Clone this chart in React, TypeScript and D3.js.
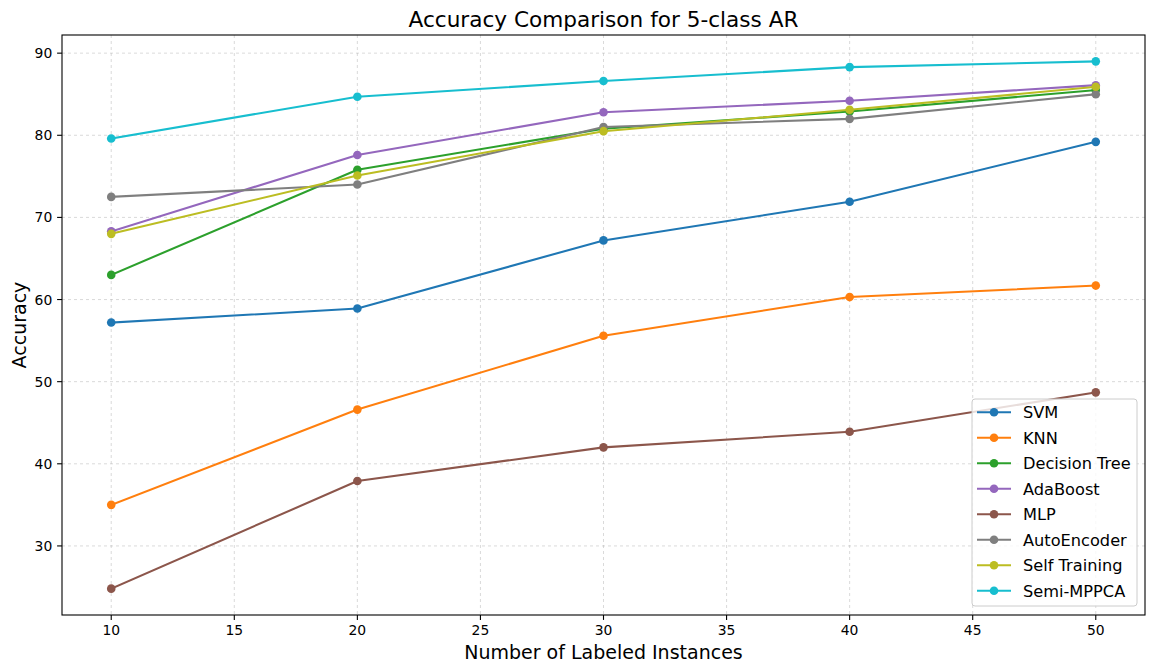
import React from "react";
import * as d3 from "d3";

const xValues = [10, 20, 30, 40, 50];
const xTicks = [10, 15, 20, 25, 30, 35, 40, 45, 50];
const yTicks = [30, 40, 50, 60, 70, 80, 90];

const seriesNames = ["SVM", "KNN", "Decision Tree", "AdaBoost", "MLP", "AutoEncoder", "Self Training", "Semi-MPPCA"];
const svm = [57.2, 58.9, 67.2, 71.9, 79.2];
const knn = [35.0, 46.6, 55.6, 60.3, 61.7];
const decisionTree = [63.0, 75.8, 80.8, 82.9, 85.5];
const adaBoost = [68.3, 77.6, 82.8, 84.2, 86.1];
const mlp = [24.8, 37.9, 42.0, 43.9, 48.7];
const autoEncoder = [72.5, 74.0, 81.0, 82.0, 85.0];
const selfTraining = [68.0, 75.1, 80.5, 83.1, 85.9];
const semiMPPCA = [79.6, 84.7, 86.6, 88.3, 89.0];
const seriesValues = [svm, knn, decisionTree, adaBoost, mlp, autoEncoder, selfTraining, semiMPPCA];
const colors = ["#1f77b4", "#ff7f0e", "#2ca02c", "#9467bd", "#8c564b", "#7f7f7f", "#bcbd22", "#17becf"];

const W = 1149;
const H = 666;
const L = 62, R = 1145, T = 35, B = 615;
const FONT = "DejaVu Sans, sans-serif";

export default function App() {
  const allY = seriesValues.flat();
  const yMin = d3.min(allY)!, yMax = d3.max(allY)!;
  const yPad = (yMax - yMin) * 0.05;
  const xMin = d3.min(xValues)!, xMax = d3.max(xValues)!;
  const xPad = (xMax - xMin) * 0.05;
  const x = d3.scaleLinear().domain([xMin - xPad, xMax + xPad]).range([L, R]);
  const y = d3.scaleLinear().domain([yMin - yPad, yMax + yPad]).range([B, T]);
  const line = d3.line<number>().x((_, i) => x(xValues[i])).y((d) => y(d));

  const legX = 972, legY = 399, legW = 165, legH = 207;
  const rowH = 25.5;

  return (
    <svg width={W} height={H} style={{ position: "absolute", left: 0, top: 0 }} fontFamily={FONT}>
      <rect x={0} y={0} width={W} height={H} fill="#fff" />
      {/* grid */}
      <g stroke="#b0b0b0" strokeOpacity={0.6} strokeWidth={0.8} strokeDasharray="3,3" fill="none">
        {xTicks.map((t) => (
          <line key={"gx" + t} x1={x(t)} x2={x(t)} y1={T} y2={B} />
        ))}
        {yTicks.map((t) => (
          <line key={"gy" + t} x1={L} x2={R} y1={y(t)} y2={y(t)} />
        ))}
      </g>
      {/* series */}
      {seriesValues.map((vals, si) => (
        <g key={seriesNames[si]}>
          <path d={line(vals) || ""} fill="none" stroke={colors[si]} strokeWidth={2.08} strokeLinejoin="round" strokeLinecap="square" />
          {vals.map((v, i) => (
            <circle key={i} cx={x(xValues[i])} cy={y(v)} r={4.3} fill={colors[si]} />
          ))}
        </g>
      ))}
      {/* frame */}
      <rect x={L} y={T} width={R - L} height={B - T} fill="none" stroke="#000" strokeWidth={1.1} />
      {/* x ticks */}
      <g>
        {xTicks.map((t) => (
          <g key={"xt" + t}>
            <line x1={x(t)} x2={x(t)} y1={B} y2={B + 4.9} stroke="#000" strokeWidth={1.1} />
            <text x={x(t)} y={B + 9.7} dy="0.76em" textAnchor="middle" fontSize={13.9} fill="#000">
              {t}
            </text>
          </g>
        ))}
      </g>
      {/* y ticks */}
      <g>
        {yTicks.map((t) => (
          <g key={"yt" + t}>
            <line x1={L - 4.9} x2={L} y1={y(t)} y2={y(t)} stroke="#000" strokeWidth={1.1} />
            <text x={L - 9.7} y={y(t)} dy="0.36em" textAnchor="end" fontSize={13.9} fill="#000">
              {t}
            </text>
          </g>
        ))}
      </g>
      {/* labels */}
      <text x={(L + R) / 2} y={659} textAnchor="middle" fontSize={19} fill="#000">
        Number of Labeled Instances
      </text>
      <text transform={`translate(26,${(T + B) / 2}) rotate(-90)`} textAnchor="middle" fontSize={19} fill="#000">
        Accuracy
      </text>
      <text x={(L + R) / 2} y={27} textAnchor="middle" fontSize={21.6} fill="#000">
        Accuracy Comparison for 5-class AR
      </text>
      {/* legend */}
      <g>
        <rect x={legX} y={legY} width={legW} height={legH} rx={3} fill="#fff" fillOpacity={0.8} stroke="#cccccc" strokeWidth={1} />
        {seriesNames.map((name, i) => {
          const cy = legY + 13.3 + i * rowH;
          return (
            <g key={"lg" + name}>
              <line x1={977} x2={1011} y1={cy} y2={cy} stroke={colors[i]} strokeWidth={2.08} />
              <circle cx={994} cy={cy} r={4.3} fill={colors[i]} />
              <text x={1023} y={cy} dy="0.36em" fontSize={16.2} fill="#000">
                {name}
              </text>
            </g>
          );
        })}
      </g>
    </svg>
  );
}
